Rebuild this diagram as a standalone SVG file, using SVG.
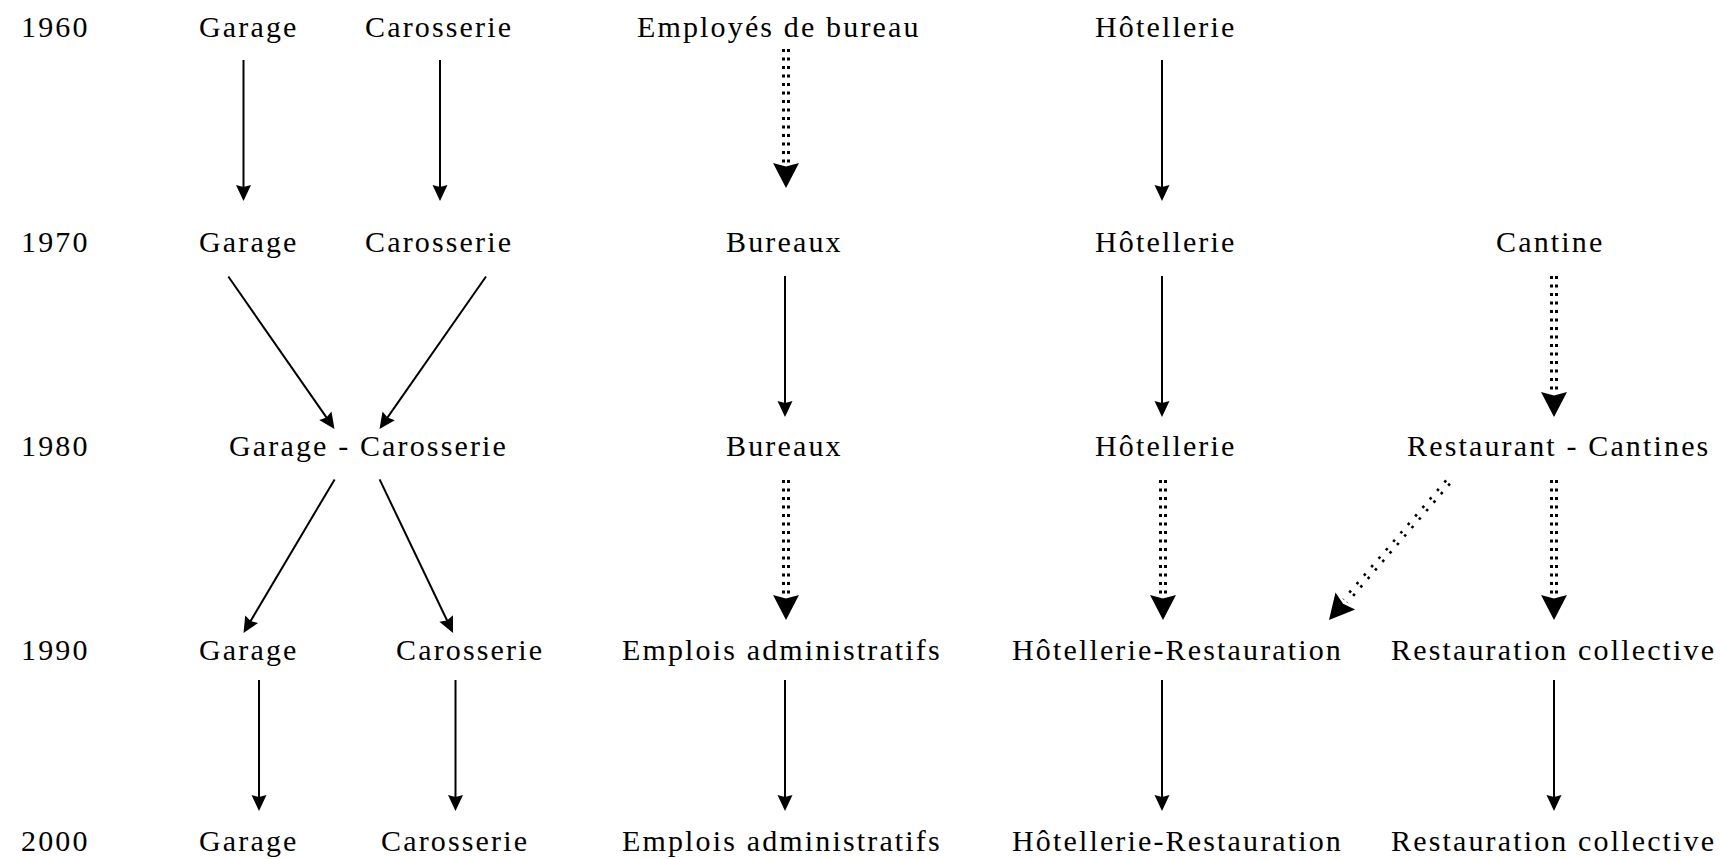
<svg xmlns="http://www.w3.org/2000/svg" width="1720" height="859" viewBox="0 0 1720 859">
  <style>
    text { font-family: "Liberation Serif", "Times New Roman", serif; font-size: 30px; letter-spacing: 2.15px; fill: #000; }
    .ln { stroke: #000; stroke-width: 2; fill: none; }
    .dots { stroke: #000; stroke-width: 3; fill: none; stroke-dasharray: 3 5.5; }
    .ddots { stroke: #000; stroke-width: 2.6; fill: none; stroke-dasharray: 2.6 8.6; }
    .axis { stroke: none; fill: none; }
  </style>
  <defs>
    <marker id="ah" markerUnits="userSpaceOnUse" orient="auto" overflow="visible" markerWidth="1" markerHeight="1" refX="0" refY="0">
      <path d="M8,0 L-8,-7.5 L-6,0 L-8,7.5 Z" fill="#000"/>
    </marker>
    <marker id="dh" markerUnits="userSpaceOnUse" orient="auto" overflow="visible" markerWidth="1" markerHeight="1" refX="0" refY="0">
      <path d="M0,0 L-25,-13 L-21.6,0 L-25,13 Z" fill="#000"/>
    </marker>
  </defs>

  <g id="years">
    <text x="21" y="37">1960</text>
    <text x="21" y="252">1970</text>
    <text x="21" y="456">1980</text>
    <text x="21" y="660">1990</text>
    <text x="21" y="851">2000</text>
  </g>

  <g id="n1960-garage"><text x="199" y="37">Garage</text></g>
  <g id="n1960-carosserie"><text x="365" y="37">Carosserie</text></g>
  <g id="n1960-employes"><text x="637" y="37">Employés de bureau</text></g>
  <g id="n1960-hotellerie"><text x="1095" y="37">Hôtellerie</text></g>

  <g id="n1970-garage"><text x="199" y="252">Garage</text></g>
  <g id="n1970-carosserie"><text x="365" y="252">Carosserie</text></g>
  <g id="n1970-bureaux"><text x="726" y="252">Bureaux</text></g>
  <g id="n1970-hotellerie"><text x="1095" y="252">Hôtellerie</text></g>
  <g id="n1970-cantine"><text x="1496" y="252">Cantine</text></g>

  <g id="n1980-garage-carosserie"><text x="229" y="456">Garage - Carosserie</text></g>
  <g id="n1980-bureaux"><text x="726" y="456">Bureaux</text></g>
  <g id="n1980-hotellerie"><text x="1095" y="456">Hôtellerie</text></g>
  <g id="n1980-restaurant"><text x="1407" y="456">Restaurant - Cantines</text></g>

  <g id="n1990-garage"><text x="199" y="660">Garage</text></g>
  <g id="n1990-carosserie"><text x="396" y="660">Carosserie</text></g>
  <g id="n1990-emplois"><text x="622" y="660">Emplois administratifs</text></g>
  <g id="n1990-hotellerie"><text x="1012" y="660">Hôtellerie-Restauration</text></g>
  <g id="n1990-restauration"><text x="1391" y="660">Restauration collective</text></g>

  <g id="n2000-garage"><text x="199" y="851">Garage</text></g>
  <g id="n2000-carosserie"><text x="381" y="851">Carosserie</text></g>
  <g id="n2000-emplois"><text x="622" y="851">Emplois administratifs</text></g>
  <g id="n2000-hotellerie"><text x="1012" y="851">Hôtellerie-Restauration</text></g>
  <g id="n2000-restauration"><text x="1391" y="851">Restauration collective</text></g>

  <g id="connectors">
    <!-- 1960 -> 1970 -->
    <path class="ln" d="M243.5,60 V193" marker-end="url(#ah)"/>
    <path class="ln" d="M440,60 V193" marker-end="url(#ah)"/>
    <path class="dots" d="M783.5,49 V163 M788.5,49 V163"/>
    <path class="axis" d="M786,49 V188" marker-end="url(#dh)"/>
    <path class="ln" d="M1162,60 V193" marker-end="url(#ah)"/>

    <!-- 1970 -> 1980 -->
    <path class="ln" d="M228.3,276.5 L329.9,422.4" marker-end="url(#ah)"/>
    <path class="ln" d="M486,276.5 L384.1,422.4" marker-end="url(#ah)"/>
    <path class="ln" d="M785,276 V409" marker-end="url(#ah)"/>
    <path class="ln" d="M1162,276 V409" marker-end="url(#ah)"/>
    <path class="dots" d="M1551.5,276 V392 M1556.5,276 V392"/>
    <path class="axis" d="M1554,276 V417" marker-end="url(#dh)"/>

    <!-- 1980 -> 1990 -->
    <path class="ln" d="M334.6,479.4 L247.6,626.1" marker-end="url(#ah)"/>
    <path class="ln" d="M379.6,479.4 L449.6,625.8" marker-end="url(#ah)"/>
    <path class="dots" d="M783.5,480 V595 M788.5,480 V595"/>
    <path class="axis" d="M786,480 V620" marker-end="url(#dh)"/>
    <path class="dots" d="M1160.5,480 V595 M1165.5,480 V595"/>
    <path class="axis" d="M1163,480 V620" marker-end="url(#dh)"/>
    <path class="ddots" d="M1449.9,483.6 L1347.2,602.7 M1446.1,480.4 L1343.4,599.5"/>
    <path class="axis" d="M1448,482 L1329,620" marker-end="url(#dh)"/>
    <path class="dots" d="M1551.5,480 V595 M1556.5,480 V595"/>
    <path class="axis" d="M1554,480 V620" marker-end="url(#dh)"/>

    <!-- 1990 -> 2000 -->
    <path class="ln" d="M259,680 V803" marker-end="url(#ah)"/>
    <path class="ln" d="M455.5,680 V803" marker-end="url(#ah)"/>
    <path class="ln" d="M785,680 V803" marker-end="url(#ah)"/>
    <path class="ln" d="M1162,680 V803" marker-end="url(#ah)"/>
    <path class="ln" d="M1554,680 V803" marker-end="url(#ah)"/>
  </g>
</svg>
